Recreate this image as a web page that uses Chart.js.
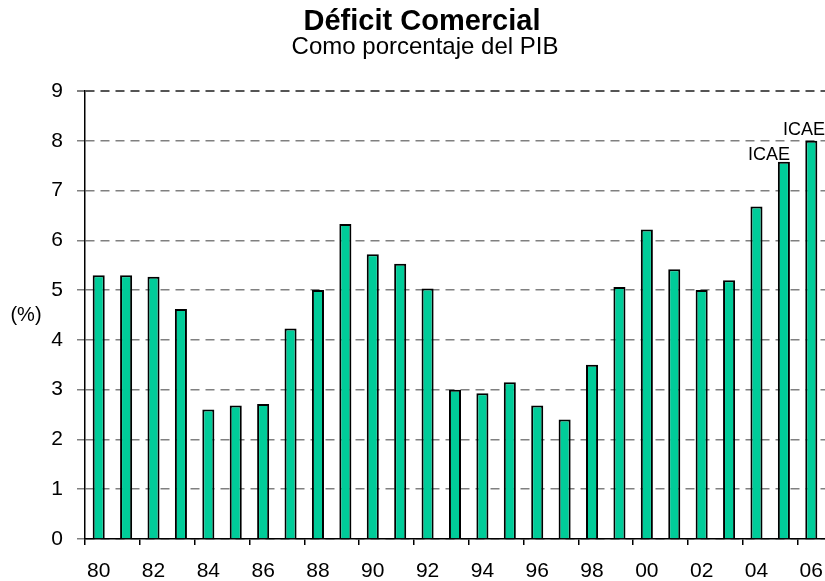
<!DOCTYPE html>
<html>
<head>
<meta charset="utf-8">
<script src="https://cdn.jsdelivr.net/npm/chart.js@4/dist/chart.umd.min.js"></script>
<style>
  html, body { margin: 0; padding: 0; background: #fff; overflow: hidden; }
  #wrap { position: relative; width: 825px; height: 581px; }
</style>
</head>
<body>
<div id="wrap"><canvas id="deficitChart" width="825" height="581"></canvas></div>
<script>
// Déficit comercial, % del PIB, 1980-2006
const years = ['80', '81', '82', '83', '84', '85', '86', '87', '88', '89',
  '90', '91', '92', '93', '94', '95', '96', '97', '98', '99',
  '00', '01', '02', '03', '04', '05', '06'];
const deficit = [5.3, 5.3, 5.27, 4.62, 2.6, 2.68, 2.71, 4.23, 5.0, 6.33,
  5.72, 5.53, 5.03, 3.0, 2.93, 3.15, 2.68, 2.4, 3.5, 5.06,
  6.22, 5.42, 5.0, 5.2, 6.68, 7.58, 8.0];
const notes = ['', '', '', '', '', '', '', '', '', '',
  '', '', '', '', '', '', '', '', '', '',
  '', '', '', '', '', 'ICAE', 'ICAE'];
const yTicks = [0, 1, 2, 3, 4, 5, 6, 7, 8, 9];
const titleText = 'Déficit Comercial';
const subtitleText = 'Como porcentaje del PIB';

const FONT = "'Liberation Sans', Arial, sans-serif";
Chart.defaults.font.family = FONT;
Chart.defaults.color = '#000';

// titles (centred a bit right of the canvas middle, like the original),
// "(%)" unit text and ICAE notes above the last bars
const extraText = {
  id: 'extraText',
  afterDatasetsDraw(chart) {
    const ctx = chart.ctx;
    const y = chart.scales.y;
    ctx.save();
    ctx.fillStyle = '#000';
    ctx.textAlign = 'center';
    ctx.textBaseline = 'middle';

    ctx.font = 'bold 29px ' + FONT;
    ctx.fillText(titleText, 422, 22);
    ctx.font = '24px ' + FONT;
    ctx.fillText(subtitleText, 425, 47);

    ctx.font = '20px ' + FONT;
    ctx.fillText('(%)', 26, y.getPixelForValue(4.5));

    ctx.font = '18px ' + FONT;
    ctx.textBaseline = 'alphabetic';
    ctx.textAlign = 'right';
    const bars = chart.getDatasetMeta(0).data;
    notes.forEach((txt, i) => {
      if (!txt) return;
      const bar = bars[i];
      const last = i === bars.length - 1;
      const x = last ? chart.width : bar.x + bar.width / 2;
      ctx.fillText(txt, x, bar.y - (last ? 6 : 2));
    });
    ctx.restore();
  }
};

new Chart(document.getElementById('deficitChart'), {
  type: 'bar',
  data: {
    labels: years,
    datasets: [{
      data: deficit,
      backgroundColor: '#00CC99',
      borderColor: '#000',
      borderWidth: 2,
      barPercentage: 0.44,
      categoryPercentage: 1
    }]
  },
  options: {
    responsive: false,
    animation: false,
    layout: { padding: { top: 91, left: 0, right: 0, bottom: 0 } },
    plugins: {
      legend: { display: false },
      tooltip: { enabled: false },
      title: { display: false },
      subtitle: { display: false }
    },
    scales: {
      x: {
        offset: true,
        afterFit: (scale) => {
          scale.height = 42;
          scale.paddingLeft = 0;
          scale.paddingRight = 0;
        },
        grid: {
          offset: true,
          drawOnChartArea: false,
          drawTicks: true,
          tickLength: 6,
          color: (c) => (c.index % 2 === 0 ? '#000' : 'rgba(0,0,0,0)'),
          lineWidth: 1.5
        },
        border: { color: '#000', width: 1.5 },
        ticks: {
          autoSkip: false,
          maxRotation: 0,
          padding: 16,
          font: { size: 21, lineHeight: 1 },
          callback: (v, i) => (i % 2 === 0 ? years[i] : '')
        }
      },
      y: {
        min: 0,
        max: 9,
        afterBuildTicks: (scale) => {
          scale.ticks = yTicks.map((v) => ({ value: v }));
        },
        afterFit: (scale) => { scale.width = 85; },
        grid: {
          color: (c) => (c.tick && c.tick.value === 9 ? '#555' : '#808080'),
          lineWidth: (c) => (c.tick && c.tick.value === 9 ? 2 : 1.5),
          tickLength: 8,
          tickColor: '#808080',
          tickBorderDash: []
        },
        border: { color: '#000', width: 1.5, dash: [9, 6] },
        ticks: {
          padding: 14,
          font: { size: 21 }
        }
      }
    }
  },
  plugins: [extraText]
});
</script>
</body>
</html>
